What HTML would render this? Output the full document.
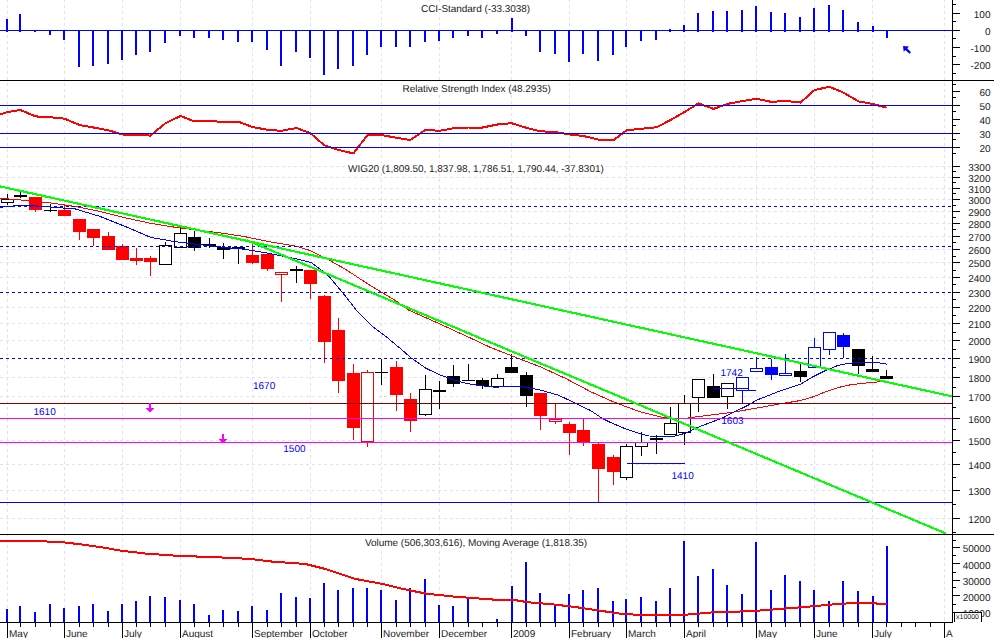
<!DOCTYPE html>
<html><head><meta charset="utf-8"><title>WIG20</title>
<style>
html,body{margin:0;padding:0;background:#fff;}
#c{position:relative;width:994px;height:638px;overflow:hidden;background:#fff;font-family:"Liberation Sans",sans-serif;font-size:10px;line-height:12px;color:#1c1c1c;text-rendering:geometricPrecision;}
.t{position:absolute;white-space:nowrap;}
.bg{letter-spacing:-0.04px;}
.x{position:absolute;left:956px;top:613.5px;width:25px;height:8px;font-size:7px;line-height:8px;text-align:left;}
</style></head><body>
<div id="c">
<svg width="994" height="638" viewBox="0 0 994 638" style="display:block;position:absolute;left:0;top:0">
<rect width="994" height="638" fill="#fff"/>
<g stroke="#e0e0fa" stroke-width="1" stroke-dasharray="3 3" shape-rendering="crispEdges" fill="none">
<path d="M0 518.5H952.5"/>
<path d="M0 490.5H952.5"/>
<path d="M0 464.5H952.5"/>
<path d="M0 440.5H952.5"/>
<path d="M0 418.5H952.5"/>
<path d="M0 396.5H952.5"/>
<path d="M0 377.5H952.5"/>
<path d="M0 358.5H952.5"/>
<path d="M0 340.5H952.5"/>
<path d="M0 323.5H952.5"/>
<path d="M0 307.5H952.5"/>
<path d="M0 292.5H952.5"/>
<path d="M0 277.5H952.5"/>
<path d="M0 262.5H952.5"/>
<path d="M0 249.5H952.5"/>
<path d="M0 236.5H952.5"/>
<path d="M0 223.5H952.5"/>
<path d="M0 211.5H952.5"/>
<path d="M0 199.5H952.5"/>
<path d="M0 188.5H952.5"/>
<path d="M0 177.5H952.5"/>
<path d="M0 166.5H952.5"/>
</g>
<g stroke="#e0e0fa" stroke-width="1" stroke-dasharray="3 3" stroke-dashoffset="1" shape-rendering="crispEdges" fill="none">
<path d="M7.5 0V622"/>
<path d="M64.5 0V622"/>
<path d="M122.5 0V622"/>
<path d="M180.5 0V622"/>
<path d="M252.5 0V622"/>
<path d="M310.5 0V622"/>
<path d="M381.5 0V622"/>
<path d="M439.5 0V622"/>
<path d="M511.5 0V622"/>
<path d="M569.5 0V622"/>
<path d="M626.5 0V622"/>
<path d="M684.5 0V622"/>
<path d="M756.5 0V622"/>
<path d="M814.5 0V622"/>
<path d="M872.5 0V622"/>
<path d="M944.5 0V622"/>
</g>
<rect x="420" y="3" width="112" height="10" fill="#fff"/>
<rect x="401" y="83" width="152" height="10" fill="#fff"/>
<rect x="347" y="163" width="259" height="10" fill="#fff"/>
<rect x="364" y="537" width="225" height="10" fill="#fff"/>
<g shape-rendering="crispEdges">
<rect x="7" y="194" width="1" height="10.7" fill="#000000"/>
<rect x="1.5" y="199.5" width="12" height="3" fill="#fff" stroke="#000000" stroke-width="1"/>
</g>
<g shape-rendering="crispEdges">
<rect x="20" y="192" width="1" height="6" fill="#000000"/>
<rect x="14" y="195" width="13" height="2" fill="#000000"/>
</g>
<g shape-rendering="crispEdges">
<rect x="35" y="197" width="1" height="15" fill="#ff0000"/>
<rect x="29" y="197" width="13" height="13" fill="#ff0000"/>
</g>
<g shape-rendering="crispEdges">
<rect x="50" y="204.1" width="1" height="7.9" fill="#000000"/>
<rect x="44" y="210" width="13" height="1" fill="#000000"/>
</g>
<g shape-rendering="crispEdges">
<rect x="64" y="204.3" width="1" height="11.7" fill="#ff0000"/>
<rect x="58" y="210" width="13" height="6" fill="#ff0000"/>
</g>
<g shape-rendering="crispEdges">
<rect x="79" y="219" width="1" height="20.8" fill="#ff0000"/>
<rect x="73" y="219" width="13" height="13" fill="#ff0000"/>
</g>
<g shape-rendering="crispEdges">
<rect x="93" y="229" width="1" height="17" fill="#ff0000"/>
<rect x="87" y="229" width="13" height="9" fill="#ff0000"/>
</g>
<g shape-rendering="crispEdges">
<rect x="108" y="232.2" width="1" height="17.4" fill="#ff0000"/>
<rect x="102" y="236" width="13" height="14" fill="#ff0000"/>
</g>
<g shape-rendering="crispEdges">
<rect x="122" y="243.8" width="1" height="16.1" fill="#ff0000"/>
<rect x="116" y="246" width="13" height="14" fill="#ff0000"/>
</g>
<g shape-rendering="crispEdges">
<rect x="136" y="248" width="1" height="17" fill="#ff0000"/>
<rect x="130" y="258" width="13" height="3" fill="#ff0000"/>
</g>
<g shape-rendering="crispEdges">
<rect x="150" y="255.6" width="1" height="20.1" fill="#ff0000"/>
<rect x="144" y="258" width="13" height="4" fill="#ff0000"/>
</g>
<g shape-rendering="crispEdges">
<rect x="165" y="241.8" width="1" height="22.9" fill="#000000"/>
<rect x="159.5" y="245.5" width="12" height="19" fill="#fff" stroke="#000000" stroke-width="1"/>
</g>
<g shape-rendering="crispEdges">
<rect x="180" y="227.4" width="1" height="19.9" fill="#000000"/>
<rect x="174.5" y="233.5" width="12" height="14" fill="#fff" stroke="#000000" stroke-width="1"/>
</g>
<g shape-rendering="crispEdges">
<rect x="194" y="231" width="1" height="19.8" fill="#000000"/>
<rect x="188" y="237" width="13" height="11" fill="#000000"/>
</g>
<g shape-rendering="crispEdges">
<rect x="209" y="238" width="1" height="9.5" fill="#000000"/>
<rect x="203" y="244" width="13" height="2" fill="#000000"/>
</g>
<g shape-rendering="crispEdges">
<rect x="223" y="243" width="1" height="15.9" fill="#000000"/>
<rect x="217" y="247" width="13" height="3" fill="#000000"/>
</g>
<g shape-rendering="crispEdges">
<rect x="238" y="247.3" width="1" height="16.4" fill="#000000"/>
<rect x="232" y="247" width="13" height="2" fill="#000000"/>
</g>
<g shape-rendering="crispEdges">
<rect x="252" y="243" width="1" height="20.7" fill="#ff0000"/>
<rect x="246" y="255" width="13" height="8" fill="#ff0000"/>
</g>
<g shape-rendering="crispEdges">
<rect x="267" y="253.8" width="1" height="16.9" fill="#ff0000"/>
<rect x="261" y="254" width="13" height="15" fill="#ff0000"/>
</g>
<g shape-rendering="crispEdges">
<rect x="281" y="272.2" width="1" height="29.4" fill="#ff0000"/>
<rect x="275.5" y="272.5" width="12" height="2" fill="#fff" stroke="#ff0000" stroke-width="1"/>
</g>
<g shape-rendering="crispEdges">
<rect x="296" y="266.4" width="1" height="16.1" fill="#000000"/>
<rect x="290" y="269" width="13" height="2" fill="#000000"/>
</g>
<g shape-rendering="crispEdges">
<rect x="310" y="270.2" width="1" height="28.7" fill="#ff0000"/>
<rect x="304" y="270" width="13" height="14" fill="#ff0000"/>
</g>
<g shape-rendering="crispEdges">
<rect x="324" y="295" width="1" height="67.8" fill="#ff0000"/>
<rect x="318" y="296" width="13" height="46" fill="#ff0000"/>
</g>
<g shape-rendering="crispEdges">
<rect x="338" y="318" width="1" height="74.5" fill="#ff0000"/>
<rect x="332" y="330" width="13" height="51" fill="#ff0000"/>
</g>
<g shape-rendering="crispEdges">
<rect x="353" y="364" width="1" height="75.5" fill="#ff0000"/>
<rect x="347" y="373" width="13" height="55" fill="#ff0000"/>
</g>
<g shape-rendering="crispEdges">
<rect x="367" y="369.9" width="1" height="76.7" fill="#ff0000"/>
<rect x="361.5" y="372.5" width="12" height="69" fill="#fff" stroke="#ff0000" stroke-width="1"/>
</g>
<g shape-rendering="crispEdges">
<rect x="381" y="358.5" width="1" height="26.2" fill="#000000"/>
<rect x="375" y="372" width="13" height="1" fill="#000000"/>
</g>
<g shape-rendering="crispEdges">
<rect x="396" y="361.3" width="1" height="49.3" fill="#ff0000"/>
<rect x="390" y="367" width="13" height="28" fill="#ff0000"/>
</g>
<g shape-rendering="crispEdges">
<rect x="410" y="393" width="1" height="38.7" fill="#ff0000"/>
<rect x="404" y="399" width="13" height="22" fill="#ff0000"/>
</g>
<g shape-rendering="crispEdges">
<rect x="425" y="375.4" width="1" height="40.2" fill="#000000"/>
<rect x="419.5" y="389.5" width="12" height="25" fill="#fff" stroke="#000000" stroke-width="1"/>
</g>
<g shape-rendering="crispEdges">
<rect x="439" y="381.2" width="1" height="27.4" fill="#000000"/>
<rect x="433" y="390" width="13" height="2" fill="#000000"/>
</g>
<g shape-rendering="crispEdges">
<rect x="453" y="365.3" width="1" height="21.4" fill="#000000"/>
<rect x="447" y="376" width="13" height="8" fill="#000000"/>
</g>
<g shape-rendering="crispEdges">
<rect x="468" y="364.1" width="1" height="17.1" fill="#000000"/>
<rect x="462" y="380" width="13" height="1" fill="#000000"/>
</g>
<g shape-rendering="crispEdges">
<rect x="482" y="377.9" width="1" height="10.8" fill="#000000"/>
<rect x="476" y="380" width="13" height="6" fill="#000000"/>
</g>
<g shape-rendering="crispEdges">
<rect x="497" y="374.1" width="1" height="12.6" fill="#000000"/>
<rect x="491.5" y="378.5" width="12" height="8" fill="#fff" stroke="#000000" stroke-width="1"/>
</g>
<g shape-rendering="crispEdges">
<rect x="511" y="354" width="1" height="19.4" fill="#000000"/>
<rect x="505" y="367" width="13" height="6" fill="#000000"/>
</g>
<g shape-rendering="crispEdges">
<rect x="526" y="371.6" width="1" height="35.2" fill="#000000"/>
<rect x="520" y="375" width="13" height="21" fill="#000000"/>
</g>
<g shape-rendering="crispEdges">
<rect x="540" y="393" width="1" height="36.7" fill="#ff0000"/>
<rect x="534" y="393" width="13" height="23" fill="#ff0000"/>
</g>
<g shape-rendering="crispEdges">
<rect x="555" y="403.6" width="1" height="20.8" fill="#ff0000"/>
<rect x="549.5" y="419.5" width="12" height="2" fill="#fff" stroke="#ff0000" stroke-width="1"/>
</g>
<g shape-rendering="crispEdges">
<rect x="569" y="421.9" width="1" height="33" fill="#ff0000"/>
<rect x="563" y="424" width="13" height="9" fill="#ff0000"/>
</g>
<g shape-rendering="crispEdges">
<rect x="583" y="418.1" width="1" height="27.7" fill="#ff0000"/>
<rect x="577" y="430" width="13" height="12" fill="#ff0000"/>
</g>
<g shape-rendering="crispEdges">
<rect x="598" y="442.5" width="1" height="59.4" fill="#ff0000"/>
<rect x="592" y="444" width="13" height="25" fill="#ff0000"/>
</g>
<g shape-rendering="crispEdges">
<rect x="613" y="454.7" width="1" height="29.9" fill="#ff0000"/>
<rect x="607" y="457" width="13" height="15" fill="#ff0000"/>
</g>
<g shape-rendering="crispEdges">
<rect x="626" y="443.9" width="1" height="35.9" fill="#000000"/>
<rect x="620.5" y="446.5" width="12" height="31" fill="#fff" stroke="#000000" stroke-width="1"/>
</g>
<g shape-rendering="crispEdges">
<rect x="641" y="432.2" width="1" height="23.7" fill="#000000"/>
<rect x="635.5" y="442.5" width="12" height="4" fill="#fff" stroke="#000000" stroke-width="1"/>
</g>
<g shape-rendering="crispEdges">
<rect x="656" y="434.5" width="1" height="19.2" fill="#000000"/>
<rect x="650" y="438" width="13" height="2" fill="#000000"/>
</g>
<g shape-rendering="crispEdges">
<rect x="670" y="406.8" width="1" height="27.9" fill="#000000"/>
<rect x="664.5" y="423.5" width="12" height="11" fill="#fff" stroke="#000000" stroke-width="1"/>
</g>
<g shape-rendering="crispEdges">
<rect x="684" y="395" width="1" height="50.1" fill="#000000"/>
<rect x="678.5" y="403.5" width="12" height="29" fill="#fff" stroke="#000000" stroke-width="1"/>
</g>
<g shape-rendering="crispEdges">
<rect x="698" y="379.2" width="1" height="32.7" fill="#000000"/>
<rect x="692.5" y="379.5" width="12" height="18" fill="#fff" stroke="#000000" stroke-width="1"/>
</g>
<g shape-rendering="crispEdges">
<rect x="713" y="374.1" width="1" height="23.4" fill="#000000"/>
<rect x="707" y="386" width="13" height="12" fill="#000000"/>
</g>
<g shape-rendering="crispEdges">
<rect x="727" y="383.4" width="1" height="25.2" fill="#000000"/>
<rect x="721.5" y="383.5" width="12" height="13" fill="#fff" stroke="#000000" stroke-width="1"/>
</g>
<g shape-rendering="crispEdges">
<rect x="742" y="376.6" width="1" height="26.5" fill="#0000ff"/>
<rect x="736.5" y="377.5" width="12" height="13" fill="#fff" stroke="#0000ff" stroke-width="1"/>
</g>
<g shape-rendering="crispEdges">
<rect x="756" y="356.5" width="1" height="15.1" fill="#0000ff"/>
<rect x="750.5" y="368.5" width="12" height="3" fill="#fff" stroke="#0000ff" stroke-width="1"/>
</g>
<g shape-rendering="crispEdges">
<rect x="771" y="359" width="1" height="20.9" fill="#0000ff"/>
<rect x="765" y="367" width="13" height="8" fill="#0000ff"/>
</g>
<g shape-rendering="crispEdges">
<rect x="785" y="354" width="1" height="21.9" fill="#0000ff"/>
<rect x="779.5" y="373.5" width="12" height="2" fill="#fff" stroke="#0000ff" stroke-width="1"/>
</g>
<g shape-rendering="crispEdges">
<rect x="800" y="364.1" width="1" height="18.1" fill="#000000"/>
<rect x="794" y="371" width="13" height="6" fill="#000000"/>
</g>
<g shape-rendering="crispEdges">
<rect x="814" y="338.2" width="1" height="30.2" fill="#0000ff"/>
<rect x="808.5" y="347.5" width="12" height="20" fill="#fff" stroke="#0000ff" stroke-width="1"/>
</g>
<g shape-rendering="crispEdges">
<rect x="829" y="332.1" width="1" height="22.7" fill="#0000ff"/>
<rect x="823.5" y="332.5" width="12" height="17" fill="#fff" stroke="#0000ff" stroke-width="1"/>
</g>
<g shape-rendering="crispEdges">
<rect x="843" y="332.6" width="1" height="25.7" fill="#0000ff"/>
<rect x="837" y="335" width="13" height="12" fill="#0000ff"/>
</g>
<g shape-rendering="crispEdges">
<rect x="858" y="349" width="1" height="25.1" fill="#000000"/>
<rect x="852" y="349" width="13" height="17" fill="#000000"/>
</g>
<g shape-rendering="crispEdges">
<rect x="872" y="356" width="1" height="15.9" fill="#000000"/>
<rect x="866" y="369" width="13" height="3" fill="#000000"/>
</g>
<g shape-rendering="crispEdges">
<rect x="886" y="369.9" width="1" height="9" fill="#000000"/>
<rect x="880" y="376" width="13" height="3" fill="#000000"/>
</g>
<g fill="#0000ff" shape-rendering="crispEdges">
<rect x="6" y="18.9" width="2" height="13.1"/>
<rect x="19" y="14.3" width="2" height="17.7"/>
<rect x="34" y="30.5" width="2" height="1.5"/>
<rect x="49" y="30.5" width="2" height="4"/>
<rect x="63" y="30.5" width="2" height="9"/>
<rect x="78" y="30.5" width="2" height="36.9"/>
<rect x="92" y="30.5" width="2" height="35.5"/>
<rect x="107" y="30.5" width="2" height="33.9"/>
<rect x="121" y="30.5" width="2" height="29.9"/>
<rect x="135" y="30.5" width="2" height="24.5"/>
<rect x="149" y="30.5" width="2" height="21.8"/>
<rect x="164" y="30.5" width="2" height="12.8"/>
<rect x="179" y="30.5" width="2" height="5"/>
<rect x="193" y="30.5" width="2" height="7.2"/>
<rect x="208" y="30.5" width="2" height="7.2"/>
<rect x="222" y="30.5" width="2" height="9.5"/>
<rect x="237" y="30.5" width="2" height="11"/>
<rect x="251" y="30.5" width="2" height="11.8"/>
<rect x="266" y="30.5" width="2" height="19.8"/>
<rect x="280" y="30.5" width="2" height="35.9"/>
<rect x="295" y="30.5" width="2" height="21.8"/>
<rect x="309" y="30.5" width="2" height="27.1"/>
<rect x="323" y="30.5" width="2" height="44.2"/>
<rect x="337" y="30.5" width="2" height="38.9"/>
<rect x="352" y="30.5" width="2" height="35.9"/>
<rect x="366" y="30.5" width="2" height="24.5"/>
<rect x="380" y="30.5" width="2" height="16"/>
<rect x="395" y="30.5" width="2" height="16"/>
<rect x="409" y="30.5" width="2" height="16.8"/>
<rect x="424" y="30.5" width="2" height="11.8"/>
<rect x="438" y="30.5" width="2" height="10.2"/>
<rect x="452" y="30.5" width="2" height="7.2"/>
<rect x="467" y="30.5" width="2" height="5.7"/>
<rect x="481" y="30.5" width="2" height="7"/>
<rect x="496" y="30.5" width="2" height="3.2"/>
<rect x="511" y="18.4" width="2" height="13.6"/>
<rect x="525" y="30.5" width="2" height="5.7"/>
<rect x="539" y="30.5" width="2" height="21.8"/>
<rect x="554" y="30.5" width="2" height="23.8"/>
<rect x="568" y="30.5" width="2" height="31.9"/>
<rect x="582" y="30.5" width="2" height="23.5"/>
<rect x="597" y="30.5" width="2" height="30.5"/>
<rect x="612" y="30.5" width="2" height="24.8"/>
<rect x="625" y="30.5" width="2" height="16"/>
<rect x="640" y="30.5" width="2" height="10.5"/>
<rect x="655" y="30.5" width="2" height="9"/>
<rect x="669" y="29.2" width="2" height="2.8"/>
<rect x="683" y="25" width="2" height="7"/>
<rect x="697" y="13.3" width="2" height="18.7"/>
<rect x="712" y="10.6" width="2" height="21.4"/>
<rect x="726" y="11.3" width="2" height="20.7"/>
<rect x="741" y="10.3" width="2" height="21.7"/>
<rect x="755" y="6.3" width="2" height="25.7"/>
<rect x="770" y="12.3" width="2" height="19.7"/>
<rect x="784" y="13" width="2" height="19"/>
<rect x="799" y="17.4" width="2" height="14.6"/>
<rect x="813" y="8.3" width="2" height="23.7"/>
<rect x="828" y="5" width="2" height="27"/>
<rect x="842" y="10.3" width="2" height="21.7"/>
<rect x="857" y="22" width="2" height="10"/>
<rect x="872" y="26" width="2" height="6"/>
<rect x="886" y="30.5" width="2" height="7.5"/>
</g>
<polyline points="0,114.6 7.5,112 20.5,110 35.5,116.4 50.5,117.2 64.5,118.7 79.5,125 93.5,127.5 108.5,130.3 122.5,134.5 136.5,134.5 150.5,135.6 165.5,123.2 180.5,116 194.5,121.5 209.5,121 223.5,122 238.5,121.7 252.5,127 267.5,129.8 281.5,130.8 296.5,128 310.5,133.3 324.5,145.4 338.5,150 353.5,153.4 367.5,135 381.5,135 396.5,137.8 410.5,140 425.5,129.8 439.5,130.8 453.5,128.3 468.5,127.5 482.5,127.5 497.5,124.5 511.5,123.2 526.5,127.8 540.5,131.3 555.5,132 569.5,134.5 583.5,136 598.5,139.6 613.5,140.3 626.5,130.3 641.5,128.8 656.5,127.3 670.5,120 684.5,112 698.5,103.4 713.5,108.9 727.5,103.9 742.5,101.1 756.5,98.8 771.5,101.9 785.5,100.9 800.5,102.6 814.5,90 829.5,86.8 843.5,92.6 858.5,101.4 872.5,103.9 886.5,107.6" fill="none" stroke="#ff0000" stroke-width="2" stroke-linejoin="round" shape-rendering="crispEdges"/>
<polyline points="0,198.3 25,200.3 50,202.8 75.5,206.6 100.6,211.6 125.8,217.9 151,223.4 176,227.4 201,230.5 226,233.7 245,236.7 270,241.8 295.3,246 310.4,250.6 328,259.4 345.6,269.4 370.8,285.8 395.9,300.9 408.5,310 440,324 470,337.8 490,347.2 515.2,357.2 540.3,366.8 565.5,378.4 590.6,391.7 610,400.4 625.7,406.6 641.3,412.1 657,416 664,417.6 675,418.4 687,418.2 696.2,416.8 700,416.4 716.1,414.4 732.2,412.4 748.3,409.5 764.4,406.7 780,403.9 800.6,400.5 813.2,396.8 825.8,391.7 838.3,387.5 850.9,384.7 863.5,383.2 881.1,381.7 887,381.5" fill="none" stroke="#ff0000" stroke-width="1" shape-rendering="crispEdges"/>
<polyline points="0,207.3 15,205.8 27.7,205.3 50,207 75.5,209 100.6,216.6 125.8,226.7 151,237.5 176,241.8 201,244.8 226,247.6 245,249.3 270,253.6 295.3,258.6 311,262.5 320.5,269.4 328.8,276.2 344.9,295.5 357,311 370.8,325.1 385.8,336.4 400.9,349 411,357.8 426.1,368.4 441.2,375.4 453.8,379.9 466.3,383.4 478.9,385.5 495,387.2 505,386.7 522.7,386.7 540.3,390 557.9,395 575.5,403.1 590.6,410.6 603.2,418.9 610,422.3 625.7,428.9 641.3,434.1 649.2,436 657,436.2 674,436.2 685.2,433.3 691.5,430.2 700,426.4 716.1,420.4 724.1,417.2 732.2,412.8 740.2,409.1 748.3,405.1 756.3,400.3 764.4,397.1 772.4,393.9 780,391 800.6,384.2 813.2,376.6 825.8,370.4 838.3,365.3 848.4,363.3 863.5,362.3 876.1,362.3 886.6,364.1" fill="none" stroke="#0000ff" stroke-width="1" shape-rendering="crispEdges"/>
<g stroke="#0000ff" stroke-width="1" shape-rendering="crispEdges" fill="none">
<path d="M0 30.5H952.5"/>
<path d="M0 105.5H952.5"/>
<path d="M0 133.5H952.5"/>
<path d="M0 147.5H952.5"/>
<path d="M0 502.5H952.5"/>
</g>
<g stroke="#0000ff" stroke-width="1" stroke-dasharray="3 3" shape-rendering="crispEdges" fill="none">
<path d="M0 206.5H952.5"/>
<path d="M0 246.5H952.5"/>
<path d="M0 292.5H952.5"/>
<path d="M0 358.5H952.5"/>
</g>
<g shape-rendering="crispEdges" fill="none" stroke-width="1">
<path d="M0 403.5H952.5" stroke="#800000"/>
<path d="M0 418.5H952.5" stroke="#ff00ff"/>
<path d="M0 442.5H952.5" stroke="#ff00ff"/>
</g>
<g stroke="#00ff00" stroke-width="2.1" fill="none" shape-rendering="crispEdges">
<path d="M0 186.4L952.5 396.5"/>
<path d="M247 240.3L946 533.5"/>
</g>
<g stroke="#0000ff" stroke-width="1" shape-rendering="crispEdges"><path d="M713 388.5H748"/><path d="M748 390.5H756"/><path d="M627 463.5H685"/></g>
<g fill="#0000ff" shape-rendering="crispEdges">
<rect x="6" y="609" width="2" height="13"/>
<rect x="19" y="606.2" width="2" height="15.8"/>
<rect x="34" y="612.2" width="2" height="9.8"/>
<rect x="49" y="604.2" width="2" height="17.8"/>
<rect x="63" y="608" width="2" height="14"/>
<rect x="78" y="606.2" width="2" height="15.8"/>
<rect x="92" y="604.2" width="2" height="17.8"/>
<rect x="107" y="611" width="2" height="11"/>
<rect x="121" y="604" width="2" height="18"/>
<rect x="135" y="601" width="2" height="21"/>
<rect x="149" y="595.9" width="2" height="26.1"/>
<rect x="164" y="597.2" width="2" height="24.8"/>
<rect x="179" y="599.9" width="2" height="22.1"/>
<rect x="193" y="604" width="2" height="18"/>
<rect x="208" y="615" width="2" height="7"/>
<rect x="222" y="610.2" width="2" height="11.8"/>
<rect x="237" y="611" width="2" height="11"/>
<rect x="251" y="606" width="2" height="16"/>
<rect x="266" y="610" width="2" height="12"/>
<rect x="280" y="592.9" width="2" height="29.1"/>
<rect x="295" y="596.9" width="2" height="25.1"/>
<rect x="309" y="597.9" width="2" height="24.1"/>
<rect x="323" y="582.8" width="2" height="39.2"/>
<rect x="337" y="589.9" width="2" height="32.1"/>
<rect x="352" y="587.8" width="2" height="34.2"/>
<rect x="366" y="587.8" width="2" height="34.2"/>
<rect x="380" y="589.9" width="2" height="32.1"/>
<rect x="395" y="599.9" width="2" height="22.1"/>
<rect x="409" y="588.4" width="2" height="33.6"/>
<rect x="424" y="579" width="2" height="43"/>
<rect x="438" y="605" width="2" height="17"/>
<rect x="452" y="606" width="2" height="16"/>
<rect x="467" y="597.9" width="2" height="24.1"/>
<rect x="496" y="618.5" width="2" height="3.5"/>
<rect x="511" y="585.8" width="2" height="36.2"/>
<rect x="525" y="561.9" width="2" height="60.1"/>
<rect x="539" y="592.9" width="2" height="29.1"/>
<rect x="554" y="605" width="2" height="17"/>
<rect x="568" y="593.9" width="2" height="28.1"/>
<rect x="582" y="589.9" width="2" height="32.1"/>
<rect x="597" y="587.8" width="2" height="34.2"/>
<rect x="612" y="600.9" width="2" height="21.1"/>
<rect x="625" y="598.9" width="2" height="23.1"/>
<rect x="640" y="596.9" width="2" height="25.1"/>
<rect x="655" y="600.9" width="2" height="21.1"/>
<rect x="669" y="588.1" width="2" height="33.9"/>
<rect x="683" y="540.8" width="2" height="81.2"/>
<rect x="697" y="576" width="2" height="46"/>
<rect x="712" y="569" width="2" height="53"/>
<rect x="726" y="584.8" width="2" height="37.2"/>
<rect x="741" y="593.9" width="2" height="28.1"/>
<rect x="755" y="541.8" width="2" height="80.2"/>
<rect x="770" y="589.9" width="2" height="32.1"/>
<rect x="784" y="575" width="2" height="47"/>
<rect x="799" y="580.8" width="2" height="41.2"/>
<rect x="813" y="589.9" width="2" height="32.1"/>
<rect x="828" y="601.2" width="2" height="20.8"/>
<rect x="842" y="581" width="2" height="41"/>
<rect x="857" y="590.9" width="2" height="31.1"/>
<rect x="872" y="595.9" width="2" height="26.1"/>
<rect x="886" y="545.8" width="2" height="76.2"/>
</g>
<polyline points="0,540.8 27.7,540.8 60.4,542 83,544.6 100.6,547.1 120.7,550.6 145.9,553.6 176,555.7 201.2,556.7 226.4,557.7 250,558.9 270,561.4 305.4,564 325.5,569 340.6,574 355.7,579 380.8,583.6 406,589.6 426,593.6 453.8,596.6 495,599.7 512.6,599.7 527.7,602.2 552.9,604.4 573,606.7 595.6,610 620.8,613.8 640.9,615 671.1,615.5 691.2,614.3 711.3,612.5 740,611.5 760,610.5 785.3,608.5 810.5,606.5 835.6,604.2 855.7,602.9 873.3,602.7 877.1,603.7 886.7,603.7" fill="none" stroke="#ff0000" stroke-width="2" stroke-linejoin="round" shape-rendering="crispEdges"/>
<g stroke="#000" stroke-width="1" shape-rendering="crispEdges" fill="none">
<path d="M0 80.5H994"/><path d="M0 534.5H994"/>
<path d="M0 622.5H953.0"/>
<path d="M952.5 0V622"/>
<path d="M953.0 13.5H960.0"/>
<path d="M953.0 30.5H960.0"/>
<path d="M953.0 47.5H960.0"/>
<path d="M953.0 64.5H960.0"/>
<path d="M953.0 4.5H956.0"/>
<path d="M953.0 21.5H956.0"/>
<path d="M953.0 38.5H956.0"/>
<path d="M953.0 56.5H956.0"/>
<path d="M953.0 73.5H956.0"/>
<path d="M953.0 91.5H960.0"/>
<path d="M953.0 105.5H960.0"/>
<path d="M953.0 119.5H960.0"/>
<path d="M953.0 133.5H960.0"/>
<path d="M953.0 147.5H960.0"/>
<path d="M953.0 84.5H956.0"/>
<path d="M953.0 97.5H956.0"/>
<path d="M953.0 111.5H956.0"/>
<path d="M953.0 125.5H956.0"/>
<path d="M953.0 139.5H956.0"/>
<path d="M953.0 153.5H956.0"/>
<path d="M953.0 518.5H960.0"/>
<path d="M953.0 490.5H960.0"/>
<path d="M953.0 464.5H960.0"/>
<path d="M953.0 440.5H960.0"/>
<path d="M953.0 418.5H960.0"/>
<path d="M953.0 396.5H960.0"/>
<path d="M953.0 377.5H960.0"/>
<path d="M953.0 358.5H960.0"/>
<path d="M953.0 340.5H960.0"/>
<path d="M953.0 323.5H960.0"/>
<path d="M953.0 307.5H960.0"/>
<path d="M953.0 292.5H960.0"/>
<path d="M953.0 277.5H960.0"/>
<path d="M953.0 262.5H960.0"/>
<path d="M953.0 249.5H960.0"/>
<path d="M953.0 236.5H960.0"/>
<path d="M953.0 223.5H960.0"/>
<path d="M953.0 211.5H960.0"/>
<path d="M953.0 199.5H960.0"/>
<path d="M953.0 188.5H960.0"/>
<path d="M953.0 177.5H960.0"/>
<path d="M953.0 166.5H960.0"/>
<path d="M953.0 504.5H956.0"/>
<path d="M953.0 477.5H956.0"/>
<path d="M953.0 452.5H956.0"/>
<path d="M953.0 429.5H956.0"/>
<path d="M953.0 407.5H956.0"/>
<path d="M953.0 387.5H956.0"/>
<path d="M953.0 367.5H956.0"/>
<path d="M953.0 349.5H956.0"/>
<path d="M953.0 332.5H956.0"/>
<path d="M953.0 315.5H956.0"/>
<path d="M953.0 299.5H956.0"/>
<path d="M953.0 284.5H956.0"/>
<path d="M953.0 270.5H956.0"/>
<path d="M953.0 256.5H956.0"/>
<path d="M953.0 242.5H956.0"/>
<path d="M953.0 229.5H956.0"/>
<path d="M953.0 217.5H956.0"/>
<path d="M953.0 205.5H956.0"/>
<path d="M953.0 193.5H956.0"/>
<path d="M953.0 182.5H956.0"/>
<path d="M953.0 171.5H956.0"/>
<path d="M953.0 547.5H960.0"/>
<path d="M953.0 563.5H960.0"/>
<path d="M953.0 580.5H960.0"/>
<path d="M953.0 595.5H960.0"/>
<path d="M953.0 612.5H960.0"/>
<path d="M953.0 540.5H956.0"/>
<path d="M953.0 555.5H956.0"/>
<path d="M953.0 572.5H956.0"/>
<path d="M953.0 587.5H956.0"/>
<path d="M953.0 604.5H956.0"/>
<path d="M953.0 532.5H956.0"/>
<path d="M7.5 622V638"/>
<path d="M20.5 622V627"/>
<path d="M35.5 622V627"/>
<path d="M50.5 622V627"/>
<path d="M64.5 622V638"/>
<path d="M79.5 622V627"/>
<path d="M93.5 622V627"/>
<path d="M108.5 622V627"/>
<path d="M122.5 622V638"/>
<path d="M136.5 622V627"/>
<path d="M150.5 622V627"/>
<path d="M165.5 622V627"/>
<path d="M180.5 622V638"/>
<path d="M194.5 622V627"/>
<path d="M209.5 622V627"/>
<path d="M223.5 622V627"/>
<path d="M238.5 622V627"/>
<path d="M252.5 622V638"/>
<path d="M267.5 622V627"/>
<path d="M281.5 622V627"/>
<path d="M296.5 622V627"/>
<path d="M310.5 622V638"/>
<path d="M324.5 622V627"/>
<path d="M338.5 622V627"/>
<path d="M353.5 622V627"/>
<path d="M367.5 622V627"/>
<path d="M381.5 622V638"/>
<path d="M396.5 622V627"/>
<path d="M410.5 622V627"/>
<path d="M425.5 622V627"/>
<path d="M439.5 622V638"/>
<path d="M453.5 622V627"/>
<path d="M468.5 622V627"/>
<path d="M482.5 622V627"/>
<path d="M497.5 622V627"/>
<path d="M511.5 622V638"/>
<path d="M526.5 622V627"/>
<path d="M540.5 622V627"/>
<path d="M555.5 622V627"/>
<path d="M569.5 622V638"/>
<path d="M583.5 622V627"/>
<path d="M598.5 622V627"/>
<path d="M613.5 622V627"/>
<path d="M626.5 622V638"/>
<path d="M641.5 622V627"/>
<path d="M656.5 622V627"/>
<path d="M670.5 622V627"/>
<path d="M684.5 622V638"/>
<path d="M698.5 622V627"/>
<path d="M713.5 622V627"/>
<path d="M727.5 622V627"/>
<path d="M742.5 622V627"/>
<path d="M756.5 622V638"/>
<path d="M771.5 622V627"/>
<path d="M785.5 622V627"/>
<path d="M800.5 622V627"/>
<path d="M814.5 622V638"/>
<path d="M829.5 622V627"/>
<path d="M843.5 622V627"/>
<path d="M858.5 622V627"/>
<path d="M872.5 622V638"/>
<path d="M886.5 622V627"/>
<path d="M901.5 622V627"/>
<path d="M915.5 622V627"/>
<path d="M930.5 622V627"/>
<path d="M944.5 622V638"/>
</g>
<g fill="#ff00ff" stroke="none" shape-rendering="crispEdges">
<rect x="149" y="403" width="2" height="6"/>
<path d="M146 408H154L150 412.5Z"/>
<rect x="222" y="434" width="2" height="6"/>
<path d="M219 439H227L223 443.5Z"/>
</g>
<path d="M903 46L909 46.6L907.2 48.3L911 52.2L909.4 53.8L905.5 50L903.7 51.8Z" fill="#0000ff"/>
<path d="M954.5 622V612.5H981.5V622" fill="none" stroke="#000" stroke-width="1" shape-rendering="crispEdges"/>
</svg>
<div class="t bg" style="top:3.5px;left:421px;">CCI-Standard (-33.3038)</div>
<div class="t bg" style="top:83.5px;left:402.5px;">Relative Strength Index (48.2935)</div>
<div class="t bg" style="top:163.5px;left:348px;">WIG20 (1,809.50, 1,837.98, 1,786.51, 1,790.44, -37.8301)</div>
<div class="t bg" style="top:537.5px;left:365px;">Volume (506,303,616), Moving Average (1,818.35)</div>
<div class="t " style="top:10.0px;right:3.5px;">100</div>
<div class="t " style="top:27.0px;right:3.5px;">0</div>
<div class="t " style="top:44.0px;right:3.5px;">-100</div>
<div class="t " style="top:61.0px;right:3.5px;">-200</div>
<div class="t " style="top:88.0px;right:3.5px;">60</div>
<div class="t " style="top:102.0px;right:3.5px;">50</div>
<div class="t " style="top:116.0px;right:3.5px;">40</div>
<div class="t " style="top:130.0px;right:3.5px;">30</div>
<div class="t " style="top:144.0px;right:3.5px;">20</div>
<div class="t " style="top:515.0px;right:3.5px;">1200</div>
<div class="t " style="top:487.0px;right:3.5px;">1300</div>
<div class="t " style="top:461.0px;right:3.5px;">1400</div>
<div class="t " style="top:437.0px;right:3.5px;">1500</div>
<div class="t " style="top:415.0px;right:3.5px;">1600</div>
<div class="t " style="top:393.0px;right:3.5px;">1700</div>
<div class="t " style="top:374.0px;right:3.5px;">1800</div>
<div class="t " style="top:355.0px;right:3.5px;">1900</div>
<div class="t " style="top:337.0px;right:3.5px;">2000</div>
<div class="t " style="top:320.0px;right:3.5px;">2100</div>
<div class="t " style="top:304.0px;right:3.5px;">2200</div>
<div class="t " style="top:289.0px;right:3.5px;">2300</div>
<div class="t " style="top:274.0px;right:3.5px;">2400</div>
<div class="t " style="top:259.0px;right:3.5px;">2500</div>
<div class="t " style="top:246.0px;right:3.5px;">2600</div>
<div class="t " style="top:233.0px;right:3.5px;">2700</div>
<div class="t " style="top:220.0px;right:3.5px;">2800</div>
<div class="t " style="top:208.0px;right:3.5px;">2900</div>
<div class="t " style="top:196.0px;right:3.5px;">3000</div>
<div class="t " style="top:185.0px;right:3.5px;">3100</div>
<div class="t " style="top:174.0px;right:3.5px;">3200</div>
<div class="t " style="top:163.0px;right:3.5px;">3300</div>
<div class="t " style="top:609px;right:3.5px;">10000</div>
<div class="t " style="top:593px;right:3.5px;">20000</div>
<div class="t " style="top:577px;right:3.5px;">30000</div>
<div class="t " style="top:561px;right:3.5px;">40000</div>
<div class="t " style="top:544px;right:3.5px;">50000</div>
<div class="t " style="top:407px;left:33.5px;color:#0000ff;">1610</div>
<div class="t " style="top:381px;left:253px;color:#0000ff;">1670</div>
<div class="t " style="top:444px;left:283.3px;color:#0000ff;">1500</div>
<div class="t " style="top:368px;left:720.5px;color:#0000ff;">1742</div>
<div class="t " style="top:416px;left:721.3px;color:#0000ff;">1603</div>
<div class="t " style="top:471px;left:671.5px;color:#0000ff;">1410</div>
<div class="t " style="top:629px;left:9px;">May</div>
<div class="t " style="top:629px;left:66px;">June</div>
<div class="t " style="top:629px;left:124px;">July</div>
<div class="t " style="top:629px;left:182px;">August</div>
<div class="t " style="top:629px;left:254px;">September</div>
<div class="t " style="top:629px;left:312px;">October</div>
<div class="t " style="top:629px;left:383px;">November</div>
<div class="t " style="top:629px;left:441px;">December</div>
<div class="t " style="top:629px;left:513px;">2009</div>
<div class="t " style="top:629px;left:571px;">February</div>
<div class="t " style="top:629px;left:628px;">March</div>
<div class="t " style="top:629px;left:686px;">April</div>
<div class="t " style="top:629px;left:758px;">May</div>
<div class="t " style="top:629px;left:816px;">June</div>
<div class="t " style="top:629px;left:874px;">July</div>
<div class="t " style="top:629px;left:946px;">A</div>
<div style="position:absolute;left:955px;top:613px;width:26px;height:9px;background:#fff"></div><div class="x">x10000</div>
</div>
</body></html>
